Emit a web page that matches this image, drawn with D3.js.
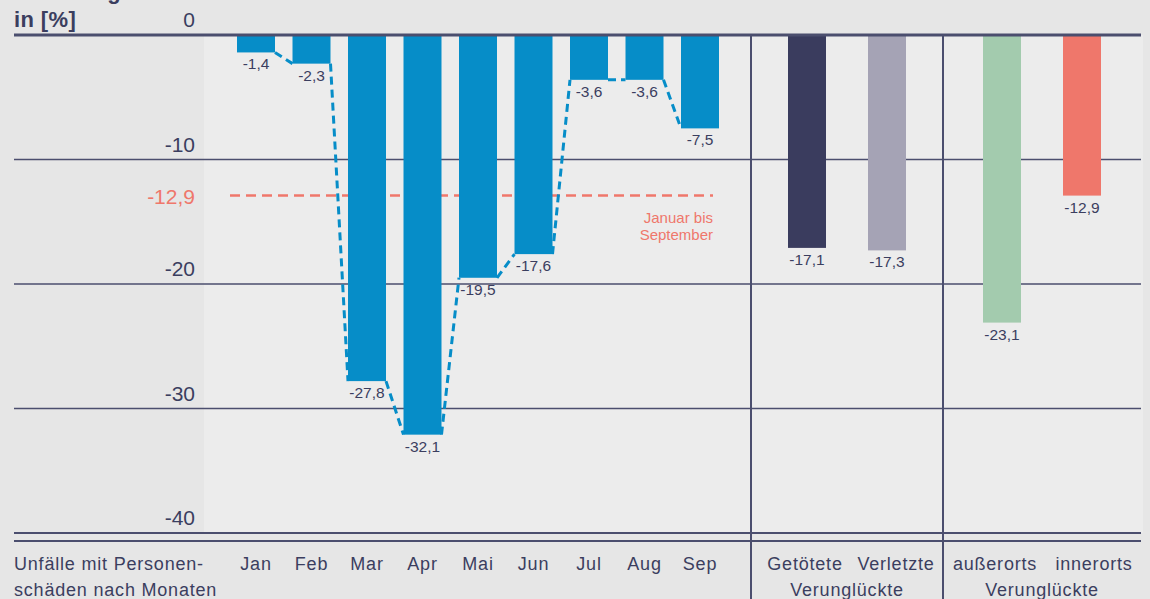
<!DOCTYPE html>
<html>
<head>
<meta charset="utf-8">
<script src="https://cdn.jsdelivr.net/npm/d3@7"></script>
<style>
  html, body { margin: 0; padding: 0; background: #e6e6e6; }
  svg { display: block; font-family: "Liberation Sans", Arial, sans-serif; }
</style>
</head>
<body>
<svg id="chart" width="1150" height="599"></svg>
<script>
// Monthly change of accidents with personal injury (Jan–Sep), in percent
const months = ["Jan", "Feb", "Mar", "Apr", "Mai", "Jun", "Jul", "Aug", "Sep"];
const monthValues = [-1.4, -2.3, -27.8, -32.1, -19.5, -17.6, -3.6, -3.6, -7.5];

// Casualties by severity
const severityCats = ["Getötete", "Verletzte"];
const severityValues = [-17.1, -17.3];

// Casualties by location
const locationCats = ["außerorts", "innerorts"];
const locationValues = [-23.1, -12.9];

// Average January to September
const averageValue = -12.9;
const averageLabel = ["Januar bis", "September"];

const yTicks = [0, -10, -20, -30, -40];
const groupTitle = "Verunglückte";
const rowTitle = ["Unfälle mit Personen-", "schäden nach Monaten"];
const headerLines = ["Änderung", "in [%]"];

const ink = "#3b3e5f";
const rule = "#4b4e6e";
const blue = "#068dc8";
const salmon = "#ef776b";
const severityColors = ["#3a3c5e", "#a5a3b5"];
const locationColors = ["#a3cbae", "#ef776b"];

// German decimal comma, plain hyphen as minus sign
const fmt = v => d3.format(".1f")(v).replace("\u2212", "-").replace(".", ",");
const fmtTick = v => String(v);

const svg = d3.select("#chart");

const y = d3.scaleLinear().domain([0, -40]).range([35, 533]);
const xMonth = d3.scalePoint().domain(months).range([256, 700]);
const xSeverity = d3.scalePoint().domain(severityCats).range([807, 887]);
const xLocation = d3.scalePoint().domain(locationCats).range([1002, 1082]);
const barW = 38;

// plot panel
svg.append("rect").attr("x", 204).attr("y", y(0)).attr("width", 939)
  .attr("height", y(-40) - y(0)).attr("fill", "#ececec");

// horizontal rules
svg.selectAll("line.grid").data(yTicks.filter(t => t !== 0 && t !== -40)).join("line")
  .attr("class", "grid").attr("x1", 14).attr("x2", 1141)
  .attr("y1", d => y(d)).attr("y2", d => y(d))
  .attr("stroke", rule).attr("stroke-width", 1.5);

// tick labels
svg.selectAll("text.tick").data(yTicks).join("text")
  .attr("class", "tick").attr("x", 195).attr("y", d => y(d) - 8)
  .attr("text-anchor", "end").attr("font-size", 21).attr("fill", ink)
  .text(d => fmtTick(d));

// header
svg.append("text").attr("x", 14).attr("y", -1).attr("font-size", 22)
  .attr("font-weight", "bold").attr("fill", ink).attr("letter-spacing", 0.4)
  .text(headerLines[0]);
svg.append("text").attr("x", 14).attr("y", 27).attr("font-size", 22)
  .attr("font-weight", "bold").attr("fill", ink).attr("letter-spacing", 0.4)
  .text(headerLines[1]);

// average reference line
svg.append("line").attr("x1", 230).attr("x2", 713)
  .attr("y1", y(averageValue)).attr("y2", y(averageValue))
  .attr("stroke", salmon).attr("stroke-width", 2.5).attr("stroke-dasharray", "10,6");
svg.append("text").attr("x", 195).attr("y", y(averageValue) + 8)
  .attr("text-anchor", "end").attr("font-size", 21).attr("fill", salmon)
  .text(fmt(averageValue));
svg.selectAll("text.avg").data(averageLabel).join("text")
  .attr("class", "avg").attr("x", 713).attr("y", (d, i) => y(averageValue) + 27 + i * 17)
  .attr("text-anchor", "end").attr("font-size", 15).attr("fill", salmon)
  .text(d => d);

// dashed connector between consecutive month bars
const connector = d3.path();
monthValues.forEach((v, i) => {
  if (i === monthValues.length - 1) return;
  connector.moveTo(xMonth(months[i]) + barW / 2, y(v));
  connector.lineTo(xMonth(months[i + 1]) - barW / 2, y(monthValues[i + 1]));
});
svg.append("path").attr("d", connector.toString()).attr("fill", "none")
  .attr("stroke", blue).attr("stroke-width", 3).attr("stroke-dasharray", "8,5");

// bars
function drawBars(cats, values, scale, colors) {
  svg.append("g").selectAll("rect").data(cats).join("rect")
    .attr("x", d => scale(d) - barW / 2).attr("y", y(0))
    .attr("width", barW).attr("height", (d, i) => y(values[i]) - y(0))
    .attr("fill", (d, i) => Array.isArray(colors) ? colors[i] : colors);
  svg.append("g").selectAll("text").data(cats).join("text")
    .attr("x", d => scale(d)).attr("y", (d, i) => y(values[i]) + 17)
    .attr("text-anchor", "middle").attr("font-size", 15.5).attr("fill", ink)
    .text((d, i) => fmt(values[i]));
}
drawBars(months, monthValues, xMonth, blue);
drawBars(severityCats, severityValues, xSeverity, severityColors);
drawBars(locationCats, locationValues, xLocation, locationColors);

// top and bottom frame rules
svg.append("line").attr("x1", 14).attr("x2", 1141).attr("y1", 35).attr("y2", 35)
  .attr("stroke", rule).attr("stroke-width", 3);
[533, 541].forEach(yy => svg.append("line").attr("x1", 14).attr("x2", 1141)
  .attr("y1", yy).attr("y2", yy).attr("stroke", rule).attr("stroke-width", 2));

// group separators
[751, 943].forEach(xx => svg.append("line").attr("x1", xx).attr("x2", xx)
  .attr("y1", 35).attr("y2", 599).attr("stroke", rule).attr("stroke-width", 2));

// category labels
const catFont = 18, catSpacing = 0.8;
svg.selectAll("text.row").data(rowTitle).join("text")
  .attr("class", "row").attr("x", 14).attr("y", (d, i) => 570 + i * 26)
  .attr("font-size", catFont).attr("letter-spacing", catSpacing).attr("fill", ink).text(d => d);
svg.append("g").selectAll("text").data(months).join("text")
  .attr("x", d => xMonth(d)).attr("y", 570).attr("text-anchor", "middle")
  .attr("font-size", catFont).attr("letter-spacing", catSpacing).attr("fill", ink).text(d => d);
const subLabelOffset = { "Getötete": -2, "Verletzte": 9, "außerorts": -7, "innerorts": 12 };
svg.append("g").selectAll("text").data(severityCats).join("text")
  .attr("x", d => xSeverity(d) + subLabelOffset[d]).attr("y", 570).attr("text-anchor", "middle")
  .attr("font-size", catFont).attr("letter-spacing", catSpacing).attr("fill", ink).text(d => d);
svg.append("g").selectAll("text").data(locationCats).join("text")
  .attr("x", d => xLocation(d) + subLabelOffset[d]).attr("y", 570).attr("text-anchor", "middle")
  .attr("font-size", catFont).attr("letter-spacing", catSpacing).attr("fill", ink).text(d => d);
[d3.mean(severityCats, d => xSeverity(d)), d3.mean(locationCats, d => xLocation(d))]
  .forEach(cx => svg.append("text").attr("x", cx).attr("y", 596).attr("text-anchor", "middle")
    .attr("font-size", catFont).attr("letter-spacing", catSpacing).attr("fill", ink).text(groupTitle));
</script>
</body>
</html>
